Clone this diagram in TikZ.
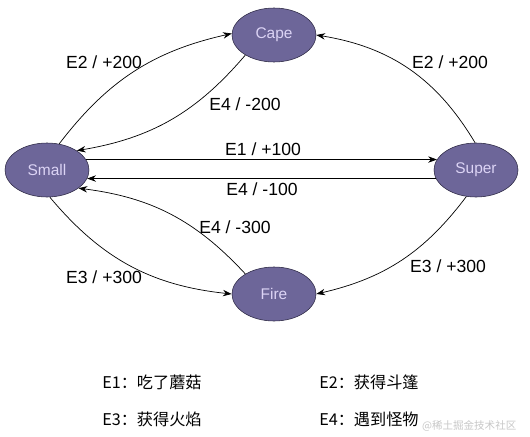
\documentclass[tikz,border=0pt]{standalone}
\usepackage{fontspec}
\setmainfont{Liberation Sans}
\newfontfamily\cjk{Noto Sans CJK SC}
\usetikzlibrary{shapes.geometric, arrows.meta}

\definecolor{statefill}{HTML}{6D6699}
\definecolor{statetext}{HTML}{DCD4F5}
\definecolor{stateline}{HTML}{2E2A45}

\tikzstyle{state}=[ellipse, draw=stateline, fill=statefill, thin,
                   minimum width=2.1cm, minimum height=1.35cm, inner sep=0,
                   text=statetext, font=\fontsize{11}{13}\selectfont]
\tikzstyle{event}=[font=\fontsize{12.5}{15}\selectfont, inner sep=0]
\tikzstyle{legend}=[anchor=west, font=\cjk\fontsize{11.5}{14}\selectfont, inner sep=0]
\tikzstyle{link}=[-{Stealth[length=2.2mm, width=1.6mm]}, line width=0.5pt]

\begin{document}
\begin{tikzpicture}
\useasboundingbox (0, 0) rectangle (13.25, 10.9);
%%%%%%%%%%%%%%%%%%%%%%%%%%%%%%
% nodes

\node (cape) at (6.85, 10.025) [state] {Cape};

\node (small) at (1.175, 6.65) [state] {Small};

\node (super) at (11.9, 6.65) [state] {Super};

\node (fire) at (6.85, 3.55) [state] {Fire};

% labels
\node (l_small_cape) at (2.6, 9.34) [event] {E2 / +200};
\node (l_super_cape) at (11.25, 9.34) [event] {E2 / +200};
\node (l_cape_small) at (6.125, 8.3) [event] {E4 / -200};
\node (l_small_super) at (6.575, 7.175) [event] {E1 / +100};
\node (l_super_small) at (6.55, 6.175) [event] {E4 / -100};
\node (l_fire_small) at (5.875, 5.225) [event] {E4 / -300};
\node (l_small_fire) at (2.6, 3.975) [event] {E3 / +300};
\node (l_super_fire) at (11.2, 4.25) [event] {E3 / +300};

% legend
\node (e1) at (2.55, 1.35) [legend] {E1：吃了蘑菇};
\node (e2) at (7.975, 1.35) [legend] {E2：获得斗篷};
\node (e3) at (2.55, 0.41) [legend] {E3：获得火焰};
\node (e4) at (7.975, 0.41) [legend] {E4：遇到怪物};
\node (mark) at (11.73, 0.25) [font=\cjk\fontsize{7.5}{9}\selectfont, text=black!22, inner sep=0] {@稀土掘金技术社区};

%%%%%%%%%%%%%%%%%%%%%%%%%%%%%%
% links

\draw [link] (small.65) to [bend left=20] (cape.178);
\draw [link] (cape.215) to [bend left=20] (small.33);

\draw [link] (super.92) to [bend right=25] (cape.0);

\draw [link] (small.15) -- (super.165);
\draw [link] (super.-168) -- (small.-12);

\draw [link] (small.-84) to [bend right=22] (fire.180);
\draw [link] (fire.145) to [bend right=20] (small.-30);

\draw [link] (super.250) to [bend left=20] (fire.0);

\end{tikzpicture}
\end{document}
